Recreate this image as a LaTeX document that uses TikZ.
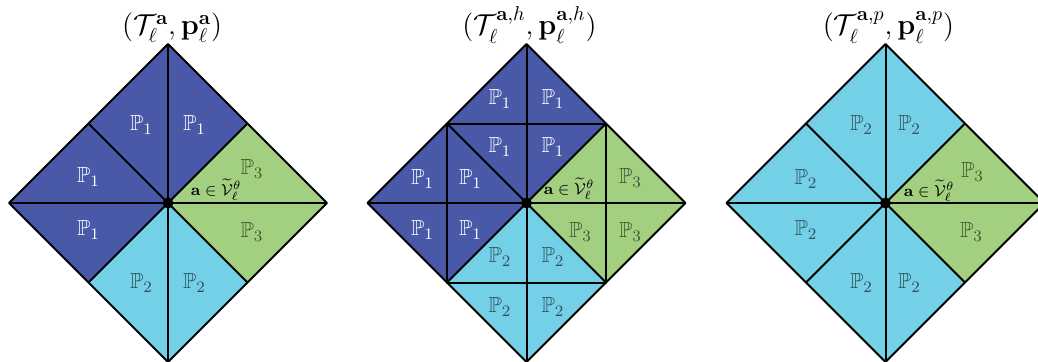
\documentclass[tikz,border=0pt]{standalone}
\usepackage{amsmath,amssymb}
\definecolor{dblue}{RGB}{74,88,168}
\definecolor{lcyan}{RGB}{115,208,230}
\definecolor{lgreen}{RGB}{162,208,128}
\newcommand{\dcoords}[1]{%
 \coordinate (#1C) at (0,0);
 \coordinate (#1T) at (0,-159);
 \coordinate (#1B) at (0,159);
 \coordinate (#1L) at (-159,0);
 \coordinate (#1R) at (159,0);
 \coordinate (#1tl) at (-79.5,-79.5);
 \coordinate (#1tr) at (79.5,-79.5);
 \coordinate (#1br) at (79.5,79.5);
 \coordinate (#1bl) at (-79.5,79.5);
}
\begin{document}
\begin{tikzpicture}[x=0.5pt,y=-0.5pt,
  edge/.style={draw=black,line width=1pt,line join=round},
  pone/.style={text=white,font=\fontsize{10.95}{13}\selectfont,inner sep=0pt},
  ptwo/.style={text=black,text opacity=0.6,font=\fontsize{10.95}{13}\selectfont,inner sep=0pt},
  avert/.style={anchor=base west,inner sep=0pt,font=\fontsize{8}{9.5}\selectfont},
  ttl/.style={anchor=base,inner sep=0pt,font=\fontsize{14.4}{17}\selectfont},
  dot/.style={circle,fill=black,inner sep=0pt,minimum size=5.5pt}]
\useasboundingbox (0,0) rectangle (1038,361);
\clip (0,0) rectangle (1038,361);
% ---------------- diamond 1 ----------------
\begin{scope}[shift={(168,203)}]
 \dcoords{a}
 \fill[dblue] (aC)--(atr)--(aT)--(aL)--(abl)--cycle;
 \fill[lgreen] (aC)--(atr)--(aR)--(abr)--cycle;
 \fill[lcyan] (aC)--(abr)--(aB)--(abl)--cycle;
 \draw[edge] (aT)--(aR)--(aB)--(aL)--cycle;
 \draw[edge] (aT)--(aB);
 \draw[edge] (aL)--(aR);
 \draw[edge] (atl)--(abr);
 \draw[edge] (atr)--(abl);
 \node[pone] (a1) at (-26.5,-78) {$\mathbb{P}_1$};
 \node[pone] (a2) at (26.5,-78) {$\mathbb{P}_1$};
 \node[pone] (a3) at (-79.5,-26) {$\mathbb{P}_1$};
 \node[pone] (a4) at (-79.5,27) {$\mathbb{P}_1$};
 \node[ptwo] (a5) at (-26.5,80) {$\mathbb{P}_2$};
 \node[ptwo] (a6) at (26.5,80) {$\mathbb{P}_2$};
 \node[ptwo] (a7) at (84,-34) {$\mathbb{P}_3$};
 \node[ptwo] (a8) at (84,29) {$\mathbb{P}_3$};
 \node[avert] (av) at (22.5,-8) {$\mathbf{a}\in\widetilde{\mathcal{V}}_\ell^{\theta}$};
 \node[dot] (ad) at (aC) {};
 \node[ttl] (at) at (4,-168.5) {$(\mathcal{T}_\ell^{\mathbf{a}},\mathbf{p}_\ell^{\mathbf{a}})$};
\end{scope}
% ---------------- diamond 2 ----------------
\begin{scope}[shift={(526.5,203)}]
 \dcoords{b}
 \fill[dblue] (bC)--(btr)--(bT)--(bL)--(bbl)--cycle;
 \fill[lgreen] (bC)--(btr)--(bR)--(bbr)--cycle;
 \fill[lcyan] (bC)--(bbr)--(bB)--(bbl)--cycle;
 \draw[edge] (bT)--(bR)--(bB)--(bL)--cycle;
 \draw[edge] (bT)--(bB);
 \draw[edge] (bL)--(bR);
 \draw[edge] (btl)--(bbr);
 \draw[edge] (btr)--(bbl);
 \draw[edge] (btl)--(btr)--(bbr)--(bbl)--cycle;
 \node[pone] (b1) at (-26.5,-104) {$\mathbb{P}_1$};
 \node[pone] (b2) at (26.5,-104) {$\mathbb{P}_1$};
 \node[pone] (b3) at (-26.5,-56) {$\mathbb{P}_1$};
 \node[pone] (b4) at (26.5,-56) {$\mathbb{P}_1$};
 \node[pone] (b5) at (-104,-24) {$\mathbb{P}_1$};
 \node[pone] (b6) at (-56,-24) {$\mathbb{P}_1$};
 \node[pone] (b7) at (-104,27) {$\mathbb{P}_1$};
 \node[pone] (b8) at (-56,27) {$\mathbb{P}_1$};
 \node[ptwo] (b9) at (-26.5,54) {$\mathbb{P}_2$};
 \node[ptwo] (b10) at (26.5,54) {$\mathbb{P}_2$};
 \node[ptwo] (b11) at (-26.5,104) {$\mathbb{P}_2$};
 \node[ptwo] (b12) at (26.5,104) {$\mathbb{P}_2$};
 \node[ptwo] (b13) at (104,-25) {$\mathbb{P}_3$};
 \node[ptwo] (b14) at (54,29) {$\mathbb{P}_3$};
 \node[ptwo] (b15) at (104,29) {$\mathbb{P}_3$};
 \node[avert] (bv) at (17,-9) {$\mathbf{a}\in\widetilde{\mathcal{V}}_\ell^{\theta}$};
 \node[dot] (bd) at (bC) {};
 \node[ttl] (bt) at (3,-168.5) {$(\mathcal{T}_\ell^{\mathbf{a},h},\mathbf{p}_\ell^{\mathbf{a},h})$};
\end{scope}
% ---------------- diamond 3 ----------------
\begin{scope}[shift={(885.5,203)}]
 \dcoords{c}
 \fill[lcyan] (cC)--(ctr)--(cT)--(cL)--(cB)--(cbr)--cycle;
 \fill[lgreen] (cC)--(ctr)--(cR)--(cbr)--cycle;
 \draw[edge] (cT)--(cR)--(cB)--(cL)--cycle;
 \draw[edge] (cT)--(cB);
 \draw[edge] (cL)--(cR);
 \draw[edge] (ctl)--(cbr);
 \draw[edge] (ctr)--(cbl);
 \node[ptwo] (c1) at (-24,-78) {$\mathbb{P}_2$};
 \node[ptwo] (c2) at (24,-78) {$\mathbb{P}_2$};
 \node[ptwo] (c3) at (-79.5,-24) {$\mathbb{P}_2$};
 \node[ptwo] (c4) at (-79.5,27) {$\mathbb{P}_2$};
 \node[ptwo] (c5) at (-24,80) {$\mathbb{P}_2$};
 \node[ptwo] (c6) at (24,80) {$\mathbb{P}_2$};
 \node[ptwo] (c7) at (87,-31) {$\mathbb{P}_3$};
 \node[ptwo] (c8) at (86,29) {$\mathbb{P}_3$};
 \node[avert] (cv) at (18,-7) {$\mathbf{a}\in\widetilde{\mathcal{V}}_\ell^{\theta}$};
 \node[dot] (cd) at (cC) {};
 \node[ttl] (ct) at (3,-168.5) {$(\mathcal{T}_\ell^{\mathbf{a},p},\mathbf{p}_\ell^{\mathbf{a},p})$};
\end{scope}
\end{tikzpicture}
\end{document}
